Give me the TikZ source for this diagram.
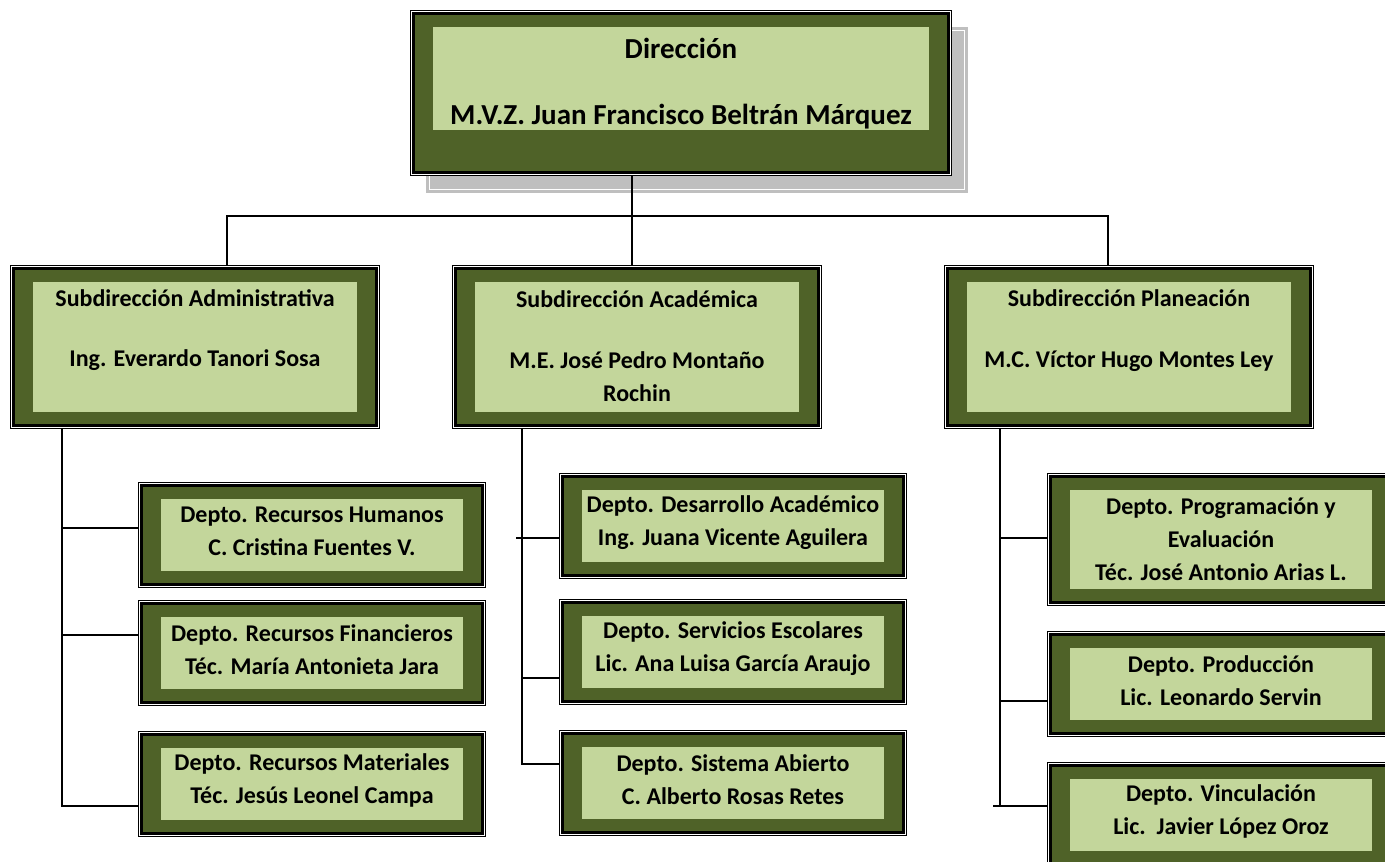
\documentclass[tikz,border=0pt]{standalone}
\usepackage{fontspec}
\setmainfont{Carlito}
\usepackage{tikz}
\usetikzlibrary{positioning,shadows}

\definecolor{verdeosc}{HTML}{4F6228}
\definecolor{verdecla}{HTML}{C3D69B}
\definecolor{gris}{HTML}{BFBFBF}

\tikzset{
	margeninf/.store in=\margeninf, margeninf=13.5pt,
	cuadro/.style={rectangle, inner sep=0pt, outer sep=3.5pt, fill=verdeosc, draw=black, line width=3pt,
		preaction={draw=black, line width=7pt},
		preaction={draw=white, line width=5pt},
		path picture={\fill[verdecla] ([shift={(19.5pt,\margeninf)}]path picture bounding box.south west) rectangle ([shift={(-19.5pt,-13.5pt)}]path picture bounding box.north east);}},
	sombra/.style={general shadow={fill=gris, draw=gris, double=white, double distance=0.8pt, line width=3pt, shadow xshift=16pt, shadow yshift=-17pt}},
	sub/.style={cuadro, minimum width=363pt, minimum height=157pt},
	depto/.style={cuadro, minimum width=341pt, minimum height=99pt},
	txt/.style={align=center, inner sep=0pt, font=\bfseries\fontsize{24pt}{33pt}\selectfont},
	txtdir/.style={align=center, inner sep=0pt, font=\bfseries\fontsize{29pt}{35pt}\selectfont},
	linea/.style={draw=black, line width=1.5pt}
}

\begin{document}
\begin{tikzpicture}[x=1pt,y=-1pt]
	\useasboundingbox[fill=white] (0,0) rectangle (1385,862);
	\clip (0,0) rectangle (1385,862);

	% direccion
	\node[sombra, cuadro, minimum width=535pt, minimum height=159pt, margeninf=42.5pt,
		label={[txtdir, yshift=9pt]center:{Dirección\\[31pt]M.V.Z. Juan Francisco Beltrán Márquez}}] (dir) at (681,93) {};

	% subdirecciones
	\node[sub, label={[txt, yshift=17pt]center:{Subdirección Administrativa\\[27pt]Ing. Everardo Tanori Sosa}}] (sadm) at (195,347) {};
	\node[sub, right=72pt of sadm, label={[txt, yshift=1pt]center:{Subdirección Académica\\[28pt]M.E. José Pedro Montaño\\Rochin}}] (sacad) {};
	\node[sub, right=122pt of sacad, label={[txt, yshift=16.5pt]center:{Subdirección Planeación\\[28pt]M.C. Víctor Hugo Montes Ley}}] (spla) {};

	% departamentos
	\node[depto, label={[txt, yshift=3pt]center:{Depto. Recursos Humanos\\C. Cristina Fuentes V.}}] (rh) at (312,534.5) {};
	\node[depto, below=12pt of rh, label={[txt, yshift=3pt]center:{Depto. Recursos Financieros\\Téc. María Antonieta Jara}}] (rf) {};
	\node[depto, below=25pt of rf, label={[txt, yshift=3pt]center:{Depto. Recursos Materiales\\Téc. Jesús Leonel Campa}}] (rm) {};

	\node[depto, label={[txt, yshift=3.5pt]center:{Depto. Desarrollo Académico\\Ing. Juana Vicente Aguilera}}] (da) at (733,526) {};
	\node[depto, below=20pt of da, label={[txt, yshift=3pt]center:{Depto. Servicios Escolares\\Lic. Ana Luisa García Araujo}}] (se) {};
	\node[depto, below=25pt of se, label={[txt, yshift=3pt]center:{Depto. Sistema Abierto\\C. Alberto Rosas Retes}}] (sa) {};

	\node[depto, minimum height=126pt, label={[txt]center:{Depto. Programación y\\Evaluación\\Téc. José Antonio Arias L.}}] (pe) at (1221,539.5) {};
	\node[depto, below=25pt of pe, label={[txt, yshift=3.5pt]center:{Depto. Producción\\Lic. Leonardo Servin}}] (prod) {};
	\node[depto, below=25pt of prod, label={[txt, yshift=3.5pt]center:{Depto. Vinculación\\Lic.\ \ Javier López Oroz}}] (vinc) {};

	% junctions
	\coordinate (bus) at (632,216);
	\coordinate (busizq) at (227,216);
	\coordinate (busder) at (1108,216);
	\coordinate (ta) at (62,806);
	\coordinate (tb) at (522,764);
	\coordinate (tc) at (1000,806);

	% lines from the top
	\draw[linea] (dir.south -| bus) -- (sacad.north -| bus);
	\draw[linea] (sadm.north -| busizq) -- (busizq) -- (busder) -- (spla.north -| busder);

	% administrativa
	\draw[linea] (sadm.south -| ta) -- (ta) -- (rm.west |- ta);
	\draw[linea] ([yshift=6.5pt]rh.west) -- ++(-76,0);
	\draw[linea] ([yshift=17.5pt]rf.west) -- ++(-76,0);

	% academica
	\draw[linea] (sacad.south -| tb) -- (tb) -- (sa.west |- tb);
	\draw[linea] ([yshift=-12pt]da.west) -- ++(-43,0);
	\draw[linea] ([yshift=-26pt]se.west) -- ++(-37,0);

	% planeacion
	\draw[linea] (spla.south -| tc) -- (tc);
	\draw[linea] (vinc.west |- tc) -- ++(-54,0);
	\draw[linea] ([yshift=1.5pt]pe.west) -- ++(-47,0);
	\draw[linea] ([yshift=-17pt]prod.west) -- ++(-47,0);
\end{tikzpicture}
\end{document}
